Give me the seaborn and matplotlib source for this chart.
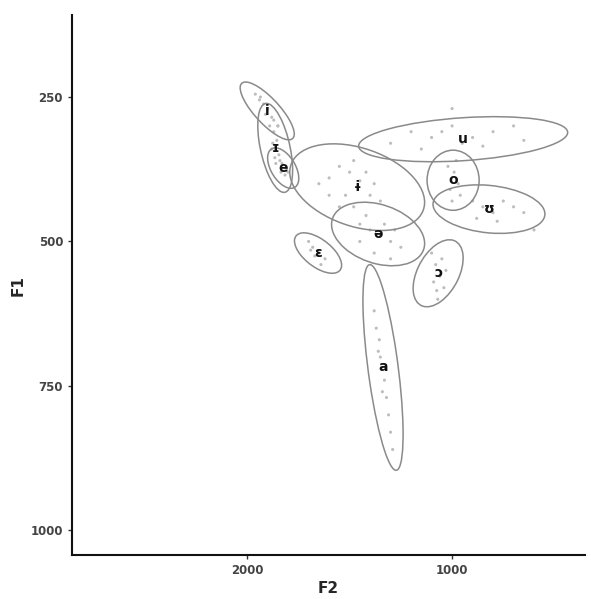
import numpy as np
import pandas as pd
import matplotlib
matplotlib.use("Agg")
import matplotlib.pyplot as plt
from matplotlib.patches import Ellipse
import seaborn as sns

# Vowel ellipse summaries (F2 centre, F1 centre, half-range F2, half-range F1, correlation)
vowels   = ["i", "ɪ", "e", "ɨ", "ə", "ɛ", "ɔ", "a", "u", "o", "ʊ"]
c_f2     = [1902, 1863, 1824, 1463, 1361, 1654, 1068, 1337, 946, 995, 820]
c_f1     = [274, 338, 373, 406, 487, 520, 555, 718, 323, 394, 444]
half_f2  = [132, 85, 76, 329, 227, 115, 122, 98, 510, 127, 273]
half_f1  = [50, 77, 35, 75, 55, 35, 58, 178, 39, 52, 42]
corr     = [-0.8, -0.5, -0.5, -0.35, -0.3, -0.6, 0.45, -0.65, 0.3, 0.0, -0.2]

tok_f2 = {
    "i": [1960, 1940, 1920, 1900, 1880, 1870, 1935, 1890, 1910, 1850],
    "ɪ": [1870, 1855, 1880, 1845, 1860, 1875, 1850, 1865],
    "e": [1830, 1810, 1840, 1815, 1800, 1835],
    "ɨ": [1600, 1550, 1500, 1450, 1400, 1350, 1520, 1480, 1600, 1420, 1550, 1380, 1650, 1480],
    "ə": [1450, 1400, 1350, 1300, 1250, 1420, 1330, 1280, 1380, 1300, 1450],
    "ɛ": [1700, 1680, 1650, 1620, 1670, 1640, 1690],
    "ɔ": [1100, 1080, 1060, 1040, 1070, 1050, 1090, 1030, 1075],
    "a": [1380, 1370, 1360, 1350, 1330, 1320, 1310, 1300, 1340, 1355, 1325, 1290],
    "u": [1300, 1200, 1100, 1000, 950, 900, 800, 700, 650, 1150, 1050, 850, 1000],
    "o": [1020, 990, 970, 1010, 960, 1000, 980],
    "ʊ": [900, 850, 800, 750, 700, 880, 780, 650, 600],
}
tok_f1 = {
    "i": [245, 255, 262, 270, 285, 290, 250, 300, 280, 300],
    "ɪ": [310, 325, 340, 350, 365, 330, 300, 355],
    "e": [365, 375, 360, 385, 380, 380],
    "ɨ": [390, 370, 380, 395, 420, 430, 420, 440, 420, 380, 440, 400, 400, 360],
    "ə": [470, 480, 490, 500, 510, 455, 470, 480, 520, 530, 500],
    "ɛ": [500, 510, 520, 530, 525, 540, 515],
    "ɔ": [520, 540, 560, 580, 600, 530, 570, 550, 585],
    "a": [620, 650, 690, 700, 740, 770, 800, 830, 760, 670, 720, 860],
    "u": [330, 310, 320, 300, 330, 320, 310, 300, 325, 340, 310, 335, 270],
    "o": [370, 380, 400, 410, 420, 430, 360],
    "ʊ": [430, 440, 450, 430, 440, 460, 465, 450, 480],
}

x_ticks = [2000, 1000]
y_ticks = [250, 500, 750, 1000]

rows = []
for v in vowels:
    for a, b in zip(tok_f2[v], tok_f1[v]):
        rows.append({"vowel": v, "F2": a, "F1": b})
tokens = pd.DataFrame(rows)

sns.set_style("white")
fig = plt.figure(figsize=(5.91, 5.99), dpi=100)
ax = fig.add_axes([0.122, 0.073, 0.868, 0.902])

sns.scatterplot(data=tokens, x="F2", y="F1", color="#bdbdbd", s=5,
                edgecolor="none", ax=ax, legend=False)

for v, mx, my, rx, ry, r in zip(vowels, c_f2, c_f1, half_f2, half_f1, corr):
    cov = np.array([[rx * rx, r * rx * ry], [r * rx * ry, ry * ry]])
    vals, vecs = np.linalg.eigh(cov)
    order = vals.argsort()[::-1]
    vals, vecs = vals[order], vecs[:, order]
    ang = np.degrees(np.arctan2(vecs[1, 0], vecs[0, 0]))
    ell = Ellipse((mx, my), 2 * np.sqrt(vals[0]), 2 * np.sqrt(vals[1]), angle=ang,
                  facecolor="none", edgecolor="#8a8a8a", linewidth=1.1)
    ax.add_patch(ell)
    ax.text(mx, my, v, ha="center", va="center", fontsize=10, fontweight="bold",
            color="#111111", family=["DejaVu Sans"])

ax.set_xlim(2854, 351)
ax.set_ylim(1043, 108)
ax.set_xticks(x_ticks)
ax.set_yticks(y_ticks)
ax.set_xticklabels([str(t) for t in x_ticks])
ax.set_yticklabels([str(t) for t in y_ticks])
ax.tick_params(axis="both", length=3, width=1, color="#333333", labelsize=8.5,
               labelcolor="#444444", direction="out", bottom=True, left=True)
for lab in ax.get_xticklabels() + ax.get_yticklabels():
    lab.set_fontweight("bold")
ax.set_xlabel("F2", fontsize=11, fontweight="bold", labelpad=3)
ax.set_ylabel("F1", fontsize=11, fontweight="bold")
ax.yaxis.set_label_coords(-0.09, 0.5)
sns.despine(ax=ax)
for s in ["left", "bottom"]:
    ax.spines[s].set_linewidth(1.5)
    ax.spines[s].set_color("#111111")

fig.savefig("out.png", dpi=100)
